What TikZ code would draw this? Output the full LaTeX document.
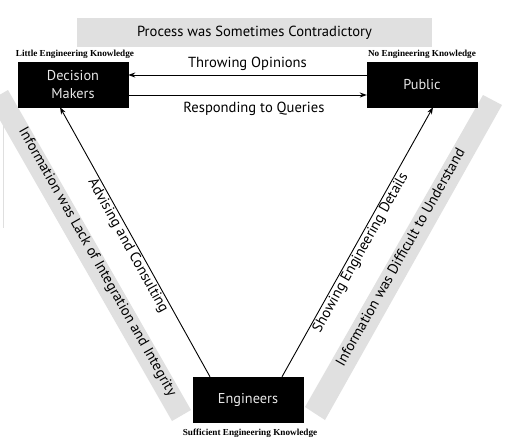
\documentclass[tikz,border=0pt]{standalone}
\usepackage{fontspec}
\setmainfont{PT Sans}
\newfontfamily\serifb{Liberation Serif}
\usetikzlibrary{arrows.meta}
\definecolor{bandgray}{RGB}{224,224,224}
\definecolor{boxtext}{RGB}{232,232,232}
\begin{document}
\begin{tikzpicture}[x=1pt,y=-1pt,
  box/.style={fill=black, draw=black, minimum width=110pt, minimum height=45pt, text=boxtext,
    font=\fontsize{14.3}{18}\selectfont, align=center, inner sep=0pt},
  know/.style={font=\serifb\bfseries\fontsize{9.2}{10}\selectfont, inner sep=0pt},
  lbl/.style={font=\fontsize{14.6}{17}\selectfont, inner sep=1pt},
  arr/.style={-{Stealth[length=7pt,width=5pt]}, line width=0.9pt},
  bandfill/.style={fill=bandgray, draw=none}]
\useasboundingbox (0,0) rectangle (525,445);
\fill[white] (0,0) rectangle (525,445);
\draw[gray!25, line width=1pt] (3,95) -- (3,228);
% side bands
\fill[bandgray] (-11,101) -- (8,90) -- (191,410) -- (172,421) -- cycle;
\fill[bandgray] (483,95) -- (502,105) -- (325,420) -- (305,407) -- cycle;
% top bar
\node[bandfill, lbl, minimum width=355pt, minimum height=29pt] (bar) at (254.5,32.5) {Process was Sometimes Contradictory};
% boxes
\node[box] (dm) at (73,84.5) {Decision\\Makers};
\node[box] (pub) at (422,84.5) {Public};
\node[box] (eng) at (248,399.5) {Engineers};
% knowledge labels
\node[know] (dmk) at (75,54) {Little Engineering Knowledge};
\node[know] (pubk) at (422,54) {No Engineering Knowledge};
\node[know] (engk) at (250,433) {Sufficient Engineering Knowledge};
% arrows
\draw[arr] ([yshift=9.5pt]pub.west) -- node[lbl, above=2.5pt] (thr) {Throwing Opinions} ([yshift=9.5pt]dm.east);
\draw[arr] ([yshift=-10.5pt]dm.east) -- node[lbl, below=5.5pt, pos=0.527] (resp) {Responding to Queries} ([yshift=-10.5pt]pub.west);
\draw[arr] ([xshift=-38pt]eng.north) -- node[lbl, sloped, below] (adv) {Advising and Consulting} ([xshift=-13pt]dm.south);
\draw[arr] ([xshift=34pt]eng.north) -- node[lbl, sloped, below, pos=0.475] (shw) {Showing Engineering Details} ([xshift=11pt]pub.south);
% band texts
\node[lbl, rotate=-60.5] (lint) at (97,262) {Information was Lack of Integration and Integrity};
\node[lbl, rotate=60.5] (diff) at (400,257) {Information was Difficult to Understand};
\end{tikzpicture}
\end{document}
